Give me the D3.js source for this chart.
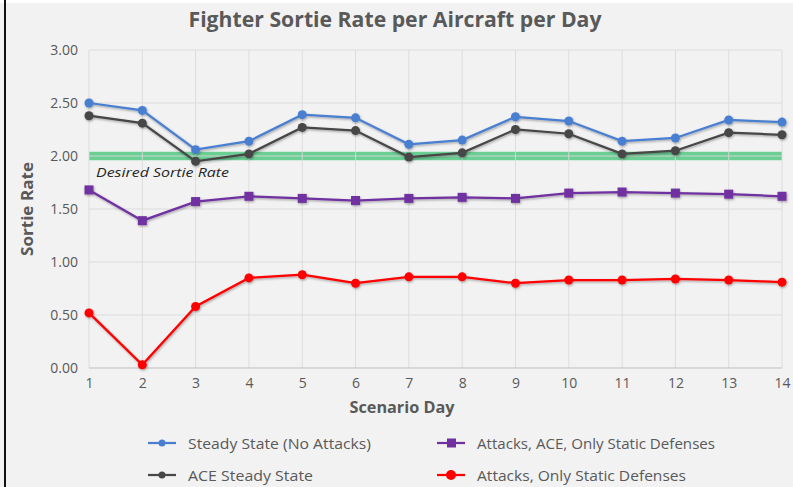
<!DOCTYPE html>
<html><head><meta charset="utf-8">
<script src="https://cdn.jsdelivr.net/npm/d3@7"></script>
<style>body{margin:0;background:#f2f2f2;}svg{display:block;}</style>
</head><body>
<svg id="chart" width="793" height="487"></svg>
<script>
const days = [1,2,3,4,5,6,7,8,9,10,11,12,13,14];
const yTicks = [0, 0.5, 1, 1.5, 2, 2.5, 3];
const steadyState = [2.50,2.43,2.06,2.14,2.39,2.36,2.11,2.15,2.37,2.33,2.14,2.17,2.34,2.32];
const aceSteady   = [2.38,2.31,1.95,2.02,2.27,2.24,1.99,2.03,2.25,2.21,2.02,2.05,2.22,2.20];
const attacksAce  = [1.68,1.39,1.57,1.62,1.60,1.58,1.60,1.61,1.60,1.65,1.66,1.65,1.64,1.62];
const attacksOnly = [0.52,0.03,0.58,0.85,0.88,0.80,0.86,0.86,0.80,0.83,0.83,0.84,0.83,0.81];
const desiredRate = 2.0;
const seriesNames = ["Steady State (No Attacks)","ACE Steady State","Attacks, ACE, Only Static Defenses","Attacks, Only Static Defenses"];

const series = [
  {name: seriesNames[0], values: steadyState, color: "#4a7fd0", marker: "circle"},
  {name: seriesNames[1], values: aceSteady,   color: "#474747", marker: "circle"},
  {name: seriesNames[2], values: attacksAce,  color: "#7030a0", marker: "square"},
  {name: seriesNames[3], values: attacksOnly, color: "#ff0000", marker: "circle"}
];

const svg = d3.select("#chart");
const txt = "#595959";
const font = "'Open Sans', sans-serif";

const defs = svg.append("defs");
const f = defs.append("filter").attr("id","sh").attr("x","-20%").attr("y","-20%").attr("width","140%").attr("height","160%");
f.append("feDropShadow").attr("dx",0.8).attr("dy",1.2).attr("stdDeviation",0.9).attr("flood-color","#000").attr("flood-opacity",0.35);

svg.append("rect").attr("width",793).attr("height",487).attr("fill","#f2f2f2");
svg.append("rect").attr("width",793).attr("height",3).attr("fill","#ffffff");
svg.append("line").attr("x1",5).attr("x2",5).attr("y1",0).attr("y2",487).attr("stroke","#111").attr("stroke-width",2);

const x = d3.scaleLinear().domain([1,14]).range([89,782]);
const y = d3.scaleLinear().domain([0,3]).range([368,50]);

// desired band
svg.append("rect")
  .attr("x", x(1)).attr("width", x(14)-x(1))
  .attr("y", y(desiredRate+0.04)).attr("height", y(desiredRate-0.04)-y(desiredRate+0.04))
  .attr("fill","#5ccb8a").attr("opacity",0.9);

// gridlines
svg.append("g").selectAll("line").data(yTicks.filter(d=>d>0)).join("line")
  .attr("x1",x(1)).attr("x2",x(14)).attr("y1",d=>y(d)).attr("y2",d=>y(d))
  .attr("stroke","#d9d9d9").attr("stroke-width",1).attr("opacity",0.85);
svg.append("g").selectAll("line").data(days).join("line")
  .attr("x1",d=>x(d)).attr("x2",d=>x(d)).attr("y1",y(3)).attr("y2",y(0))
  .attr("stroke","#d9d9d9").attr("stroke-width",1).attr("opacity",0.85);
svg.append("line").attr("x1",x(1)).attr("x2",x(14)).attr("y1",y(0)).attr("y2",y(0))
  .attr("stroke","#bfbfbf").attr("stroke-width",1);

// axes (labels only)
const yAxis = d3.axisLeft(y).tickValues(yTicks).tickFormat(d3.format(".2f")).tickSize(0).tickPadding(11);
const gy = svg.append("g").attr("transform",`translate(${x(1)},0)`).call(yAxis);
gy.select(".domain").remove();
gy.selectAll("text").attr("fill",txt).attr("font-size",14).attr("font-family",font);

const xAxis = d3.axisBottom(x).tickValues(days).tickFormat(d3.format("d")).tickSize(0).tickPadding(10);
const gx = svg.append("g").attr("transform",`translate(0,${y(0)})`).call(xAxis);
gx.select(".domain").remove();
gx.selectAll("text").attr("fill",txt).attr("font-size",14).attr("font-family",font);

// desired label
svg.append("text").attr("x",96).attr("y",177).text("Desired Sortie Rate")
  .attr("font-style","italic").attr("font-size",13.5).attr("fill","#262626").attr("font-family",font)
  .attr("textLength",133).attr("lengthAdjust","spacingAndGlyphs");

// series
const line = d3.line().x((d,i)=>x(days[i])).y(d=>y(d));
series.forEach(s=>{
  const g = svg.append("g").attr("filter","url(#sh)");
  g.append("path").attr("d",line(s.values)).attr("fill","none").attr("stroke",s.color).attr("stroke-width",2.25);
  if (s.marker==="circle") {
    g.selectAll("circle").data(s.values).join("circle")
      .attr("cx",(d,i)=>x(days[i])).attr("cy",d=>y(d)).attr("r",4.5).attr("fill",s.color);
  } else {
    g.selectAll("rect").data(s.values).join("rect")
      .attr("x",(d,i)=>x(days[i])-4.5).attr("y",d=>y(d)-4.5).attr("width",9).attr("height",9).attr("fill",s.color);
  }
});

// titles
svg.append("text").attr("x",395).attr("y",27).attr("text-anchor","middle")
  .attr("font-size",21).attr("font-weight","bold").attr("fill",txt).attr("font-family",font)
  .attr("textLength",413).attr("lengthAdjust","spacingAndGlyphs")
  .text("Fighter Sortie Rate per Aircraft per Day");
svg.append("text").attr("x",402).attr("y",413).attr("text-anchor","middle")
  .attr("font-size",16).attr("font-weight","bold").attr("fill",txt).attr("font-family",font)
  .attr("textLength",105).attr("lengthAdjust","spacingAndGlyphs")
  .text("Scenario Day");
svg.append("text").attr("transform","translate(33,209) rotate(-90)").attr("text-anchor","middle")
  .attr("font-size",16).attr("font-weight","bold").attr("fill",txt).attr("font-family",font)
  .attr("textLength",94).attr("lengthAdjust","spacingAndGlyphs")
  .text("Sortie Rate");

// legend
const legPos = [[148,443],[148,475],[437,443],[437,475]];
const legW = [183,125,238,209];
series.forEach((s,i)=>{
  const [lx,ly] = legPos[i];
  const g = svg.append("g");
  g.append("line").attr("x1",lx).attr("x2",lx+28).attr("y1",ly).attr("y2",ly).attr("stroke",s.color).attr("stroke-width",2.25);
  if (s.marker==="circle") g.append("circle").attr("cx",lx+14).attr("cy",ly).attr("r",s.color==="#ff0000"?5:3.5).attr("fill",s.color);
  else g.append("rect").attr("x",lx+10).attr("y",ly-4.5).attr("width",9).attr("height",9).attr("fill",s.color);
  g.append("text").attr("x",lx+40).attr("y",ly+5.5).text(s.name)
    .attr("font-size",15).attr("fill",txt).attr("font-family",font)
    .attr("textLength",legW[i]).attr("lengthAdjust","spacingAndGlyphs");
});
</script>
</body></html>
